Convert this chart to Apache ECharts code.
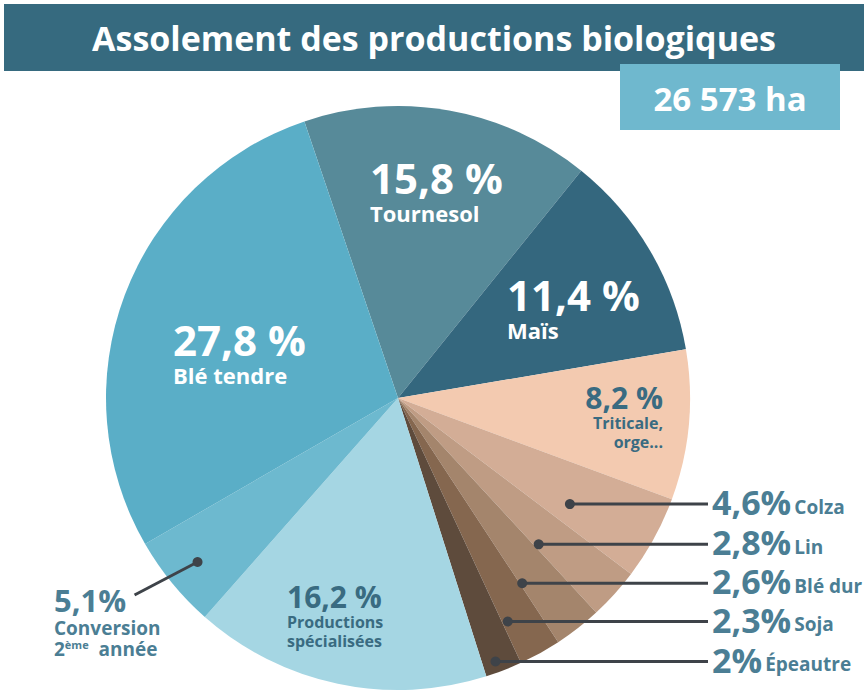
<!DOCTYPE html>
<html>
<head>
<meta charset="utf-8">
<script src="https://cdn.jsdelivr.net/npm/echarts@6/dist/echarts.min.js"></script>
<style>
  html, body { margin: 0; padding: 0; background: #fff; }
  #main { width: 868px; height: 692px; }
</style>
</head>
<body>
<div id="main"></div>
<script>
// données
const categories = ['Tournesol', 'Maïs', 'Triticale, orge...', 'Colza', 'Lin', 'Blé dur', 'Soja', 'Épeautre',
  'Productions spécialisées', 'Conversion 2ème année', 'Blé tendre']
const shares = [15.8, 11.4, 8.2, 4.6, 2.8, 2.6, 2.3, 2, 16.2, 5.1, 27.8]
const totalArea = '26 573 ha'
const title = 'Assolement des productions biologiques'

const colors = ['#578a99', '#34677e', '#f3cab0', '#d3ad96', '#bf9c84', '#a4856c', '#85674f', '#5e4b3c',
  '#a5d6e3', '#6db9cf', '#5aaec7']

const FONT = '"Open Sans", "Noto Sans", sans-serif'
const CX = 398, CY = 398, R = 292, START = 108.7
const total = shares.reduce((a, b) => a + b, 0)

function pct (i, space) {
  return String(shares[i]).replace('.', ',') + (space ? ' %' : '%')
}

// point dans la part i : fraction f de son angle, rayon r
function pointAt (i, f, r) {
  let before = 0
  for (let k = 0; k < i; k++) before += shares[k]
  const a0 = -START + before / total * 360
  const a1 = a0 + shares[i] / total * 360
  const a = (a0 + f * (a1 - a0)) * Math.PI / 180
  return [CX + r * Math.cos(a), CY + r * Math.sin(a)]
}

// placement des étiquettes
const layout = [
  { x: 370, y: 190, text: '{big|' + pct(0, true) + '}\n{bigName|Tournesol}' },
  { x: 507, y: 307, text: '{big|' + pct(1, true) + '}\n{bigName|Maïs}' },
  { x: 663, y: 416, align: 'right', text: '{midR|' + pct(2, true) + '}\n{midNameR|Triticale,}\n{midNameR|orge...}' },
  { dot: [0.68, 202], text: '{side|' + pct(3) + '} {sideName|Colza}' },
  { dot: [0.89, 203], text: '{side|' + pct(4) + '} {sideName|Lin}' },
  { dot: [0.94, 223], text: '{side|' + pct(5) + '} {sideName|Blé dur}' },
  { dot: [0.85, 249], text: '{side|' + pct(6) + '} {sideName|Soja}' },
  { dot: [0.63, 281], text: '{side|' + pct(7) + '} {sideName|Épeautre}' },
  { x: 287, y: 615, text: '{mid|' + pct(8, true) + '}\n{midName|Productions}\n{midName|spécialisées}' },
  { x: 54, y: 621, conv: [0.5, 259], text: '{conv|' + pct(9) + '}\n{convName|Conversion}\n{convName|2}{sup|ème}{convName|  année}' },
  { x: 173, y: 352, text: '{big|' + pct(10, true) + '}\n{bigName|Blé tendre}' }
]

const LINE_END = 708
const graphics = [
  { type: 'rect', shape: { x: 4, y: 4, width: 860, height: 67 }, style: { fill: '#366a7f' } },
  { type: 'text', x: 434, y: 38, style: { text: title, fill: '#fff', font: 'bold 34px ' + FONT, textAlign: 'center', textVerticalAlign: 'middle' } },
  { type: 'rect', shape: { x: 620, y: 64, width: 220, height: 66 }, style: { fill: '#6fb8ce' } },
  { type: 'text', x: 730, y: 98, style: { text: totalArea, fill: '#fff', font: 'bold 33px ' + FONT, textAlign: 'center', textVerticalAlign: 'middle' } }
]
layout.forEach((L, i) => {
  if (L.dot) {
    const p = pointAt(i, L.dot[0], L.dot[1])
    graphics.push({ type: 'line', shape: { x1: p[0], y1: p[1], x2: LINE_END, y2: p[1] }, style: { stroke: '#3e4349', lineWidth: 3 }, z: 10 })
    graphics.push({ type: 'circle', shape: { cx: p[0], cy: p[1], r: 5 }, style: { fill: '#3e4349' }, z: 10 })
  }
  if (L.conv) {
    const p = pointAt(i, L.conv[0], L.conv[1])
    graphics.push({ type: 'line', shape: { x1: p[0], y1: p[1], x2: p[0] - 63, y2: p[1] + 33 }, style: { stroke: '#3e4349', lineWidth: 3 }, z: 10 })
    graphics.push({ type: 'circle', shape: { cx: p[0], cy: p[1], r: 5 }, style: { fill: '#3e4349' }, z: 10 })
  }
})

const chart = echarts.init(document.getElementById('main'), null, { renderer: 'svg' })
chart.setOption({
  animation: false,
  color: colors,
  graphic: graphics,
  series: [
    {
      type: 'pie',
      center: [CX, CY],
      radius: [0, R],
      startAngle: START,
      clockwise: true,
      silent: true,
      itemStyle: { borderWidth: 0 },
      labelLine: { show: false },
      label: {
        show: true,
        position: 'inside',
        fontFamily: FONT,
        fontWeight: 'bold',
        rich: {
          big: { fontSize: 42, fontWeight: 'bold', color: '#fff', lineHeight: 46, fontFamily: FONT },
          bigName: { fontSize: 22, fontWeight: 'bold', color: '#fff', lineHeight: 26, fontFamily: FONT },
          mid: { fontSize: 30, fontWeight: 'bold', color: '#396b81', lineHeight: 33, fontFamily: FONT },
          midName: { fontSize: 16, fontWeight: 'bold', color: '#396b81', lineHeight: 19, fontFamily: FONT },
          midR: { fontSize: 30, fontWeight: 'bold', color: '#396b81', lineHeight: 33, fontFamily: FONT, align: 'right' },
          midNameR: { fontSize: 16, fontWeight: 'bold', color: '#396b81', lineHeight: 19, fontFamily: FONT, align: 'right' },
          side: { fontSize: 34, fontWeight: 'bold', color: '#4b7e94', fontFamily: FONT, verticalAlign: 'bottom' },
          sideName: { fontSize: 19, fontWeight: 'bold', color: '#4b7e94', fontFamily: FONT, verticalAlign: 'bottom', padding: [0, 0, 3, 0] },
          conv: { fontSize: 31, fontWeight: 'bold', color: '#4b7e94', lineHeight: 35, fontFamily: FONT },
          convName: { fontSize: 19, fontWeight: 'bold', color: '#4b7e94', lineHeight: 21, fontFamily: FONT },
          sup: { fontSize: 11, fontWeight: 'bold', color: '#4b7e94', lineHeight: 21, fontFamily: FONT, verticalAlign: 'top' }
        }
      },
      labelLayout: function (params) {
        const L = layout[params.dataIndex]
        if (L.dot) {
          const p = pointAt(params.dataIndex, L.dot[0], L.dot[1])
          return { x: LINE_END + 4, y: p[1] - 2, align: 'left', verticalAlign: 'middle' }
        }
        return { x: L.x, y: L.y, align: L.align || 'left', verticalAlign: 'middle' }
      },
      data: categories.map((name, i) => ({
        name: name,
        value: shares[i],
        label: { formatter: layout[i].text }
      }))
    }
  ]
})
</script>
</body>
</html>
